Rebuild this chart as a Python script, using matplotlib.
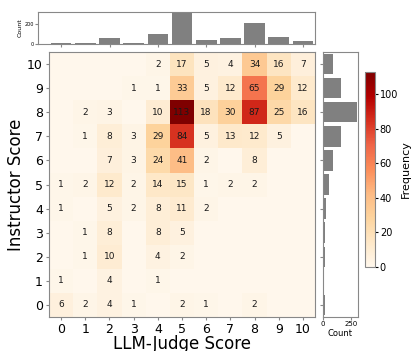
import numpy as np
import matplotlib
matplotlib.use('Agg')
import matplotlib.pyplot as plt

# scores 0..10, rows = instructor score, cols = LLM-judge score
scores = list(range(11))
freq = np.array([
    # 0  1   2  3   4    5   6   7   8   9  10
    [6, 2,  4, 1,  0,   2,  1,  0,  2,  0,  0],   # 0
    [1, 0,  4, 0,  1,   0,  0,  0,  0,  0,  0],   # 1
    [0, 1, 10, 0,  4,   2,  0,  0,  0,  0,  0],   # 2
    [0, 1,  8, 0,  8,   5,  0,  0,  0,  0,  0],   # 3
    [1, 0,  5, 2,  8,  11,  2,  0,  0,  0,  0],   # 4
    [1, 2, 12, 2, 14,  15,  1,  2,  2,  0,  0],   # 5
    [0, 0,  7, 3, 24,  41,  2,  0,  8,  0,  0],   # 6
    [0, 1,  8, 3, 29,  84,  5, 13, 12,  5,  0],   # 7
    [0, 2,  3, 0, 10, 113, 18, 30, 87, 25, 16],   # 8
    [0, 0,  0, 1,  1,  33,  5, 12, 65, 29, 12],   # 9
    [0, 0,  0, 0,  2,  17,  5,  4, 34, 16,  7],   # 10
])
col_counts = freq.sum(axis=0)
row_counts = freq.sum(axis=1)

W, H = 412, 351
fig = plt.figure(figsize=(W / 100, H / 100), dpi=100)

def box(l, t, r, b):
    return [l / W, 1 - b / H, (r - l) / W, (b - t) / H]

ax = fig.add_axes(box(49, 52, 315, 317))
ax_top = fig.add_axes(box(38, 12, 315, 44))
ax_right = fig.add_axes(box(323, 52, 358, 317))
cax = fig.add_axes(box(365, 72, 375, 267))

edge = '#888888'

im = ax.imshow(freq, cmap='OrRd', origin='lower', aspect='auto',
               vmin=0, vmax=freq.max(),
               extent=(-0.5, 10.5, -0.5, 10.5))
for i in scores:
    for j in scores:
        if freq[i, j] > 0:
            ax.text(j, i, str(freq[i, j]), ha='center', va='center',
                    fontsize=6.5, color='#1a1a1a')
ax.set_xticks(scores)
ax.set_yticks(scores)
ax.tick_params(labelsize=9, length=2.5, pad=2, color=edge)
ax.set_xlabel('LLM-Judge Score', fontsize=12, labelpad=-1)
ax.set_ylabel('Instructor Score', fontsize=12, labelpad=1)
for s in ax.spines.values():
    s.set_color(edge)

# top marginal
ax_top.bar(scores, col_counts, width=0.85, color='gray')
ax_top.set_xlim(-0.96, 10.5)
ax_top.set_ylim(0, col_counts.max() * 1.01)
ax_top.set_xticks([0, 2, 4, 6, 8, 10])
ax_top.set_xticklabels([])
ax_top.set_yticks([0, 200])
ax_top.tick_params(labelsize=3.5, length=2, pad=1, color=edge)
ax_top.set_ylabel('Count', fontsize=4.5, labelpad=1)
for s in ax_top.spines.values():
    s.set_color(edge)

# right marginal
ax_right.barh(scores, row_counts, height=0.85, color='gray')
ax_right.set_ylim(-0.5, 10.5)
ax_right.set_xlim(0, 310)
ax_right.set_yticks([0, 2, 4, 6, 8, 10])
ax_right.set_yticklabels([])
ax_right.set_xticks([0, 250])
ax_right.tick_params(labelsize=5, length=2, pad=1, color=edge)
ax_right.set_xlabel('Count', fontsize=6, labelpad=1)
for s in ax_right.spines.values():
    s.set_color(edge)

cb = fig.colorbar(im, cax=cax)
cb.set_ticks([0, 20, 40, 60, 80, 100])
cb.ax.tick_params(labelsize=7, length=2.5, pad=1)
cb.set_label('Frequency', fontsize=8, labelpad=2)
cb.outline.set_edgecolor(edge)

fig.savefig('out.png', dpi=100)
